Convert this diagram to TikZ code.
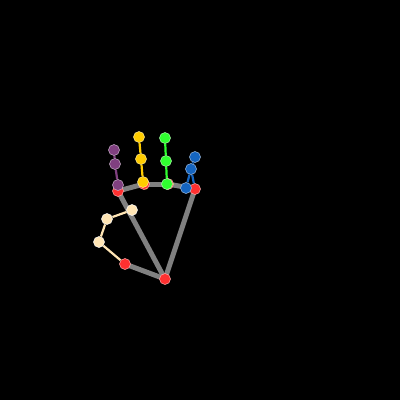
\documentclass[tikz,border=0pt]{standalone}
\usetikzlibrary{backgrounds}

\definecolor{palmred}{RGB}{255,48,48}
\definecolor{palmgray}{RGB}{128,128,128}
\definecolor{thumbcream}{RGB}{255,229,180}
\definecolor{indexpurple}{RGB}{128,64,128}
\definecolor{middleyellow}{RGB}{255,204,0}
\definecolor{ringgreen}{RGB}{48,255,48}
\definecolor{pinkyblue}{RGB}{21,101,192}

\tikzset{
  joint/.style={circle, inner sep=0pt, minimum size=11pt, line width=0.5pt},
  bone/.style={line width=2.2pt},
  palmbone/.style={line width=5pt, draw=palmgray}
}

\begin{document}
\begin{tikzpicture}[x=1pt,y=-1pt]

      \useasboundingbox (0,0) rectangle (400,400);

      \begin{scope}[every node/.style={joint,fill=palmred,draw=palmred!40!white}]
        \node (w)  at (165,279) {};
        \node (t1) at (125,264) {};
        \node (i1) at (118,191) {};
        \node (m1) at (144,184) {};
        \node (r1) at (168,184) {};
        \node (p1) at (195,189) {};
      \end{scope}

      \begin{scope}[every node/.style={joint,fill=thumbcream,draw=white}]
        \node (t2) at (99,242)  {};
        \node (t3) at (107,219) {};
        \node (t4) at (132,210) {};
      \end{scope}

      \begin{scope}[every node/.style={joint,fill=indexpurple,draw=indexpurple!40!white}]
        \node (i2) at (118,185) {};
        \node (i3) at (115,164) {};
        \node (i4) at (114,150) {};
      \end{scope}

      \begin{scope}[every node/.style={joint,fill=middleyellow,draw=middleyellow!40!white}]
        \node (m2) at (143,182) {};
        \node (m3) at (141,159) {};
        \node (m4) at (139,137) {};
      \end{scope}

      \begin{scope}[every node/.style={joint,fill=ringgreen,draw=ringgreen!40!white}]
        \node (r2) at (167,184) {};
        \node (r3) at (166,161) {};
        \node (r4) at (165,138) {};
      \end{scope}

      \begin{scope}[every node/.style={joint,fill=pinkyblue,draw=pinkyblue!40!white}]
        \node (p2) at (186,188) {};
        \node (p3) at (191,169) {};
        \node (p4) at (195,157) {};
      \end{scope}

      \begin{pgfonlayer}{background}
        \fill[black] (0,0) rectangle (400,400);

        \begin{scope}[every edge/.style={palmbone}]
          \path (w.center) edge (t1.center);
          \path (w.center) edge (i1.center);
          \path (w.center) edge (p1.center);
          \path (i1.center) edge (m1.center);
          \path (m1.center) edge (r1.center);
          \path (r1.center) edge (p1.center);
        \end{scope}

        \begin{scope}[every edge/.style={bone,draw=thumbcream}]
          \path (t1) edge (t2);
          \path (t2) edge (t3);
          \path (t3) edge (t4);
        \end{scope}

        \begin{scope}[every edge/.style={bone,draw=indexpurple}]
          \path (i1) edge (i2);
          \path (i2) edge (i3);
          \path (i3) edge (i4);
        \end{scope}

        \begin{scope}[every edge/.style={bone,draw=middleyellow}]
          \path (m1) edge (m2);
          \path (m2) edge (m3);
          \path (m3) edge (m4);
        \end{scope}

        \begin{scope}[every edge/.style={bone,draw=ringgreen}]
          \path (r1) edge (r2);
          \path (r2) edge (r3);
          \path (r3) edge (r4);
        \end{scope}

        \begin{scope}[every edge/.style={bone,draw=pinkyblue}]
          \path (p1) edge (p3);
          \path (p2) edge (p3);
          \path (p3) edge (p4);
        \end{scope}
      \end{pgfonlayer}

    \end{tikzpicture}
\end{document}
